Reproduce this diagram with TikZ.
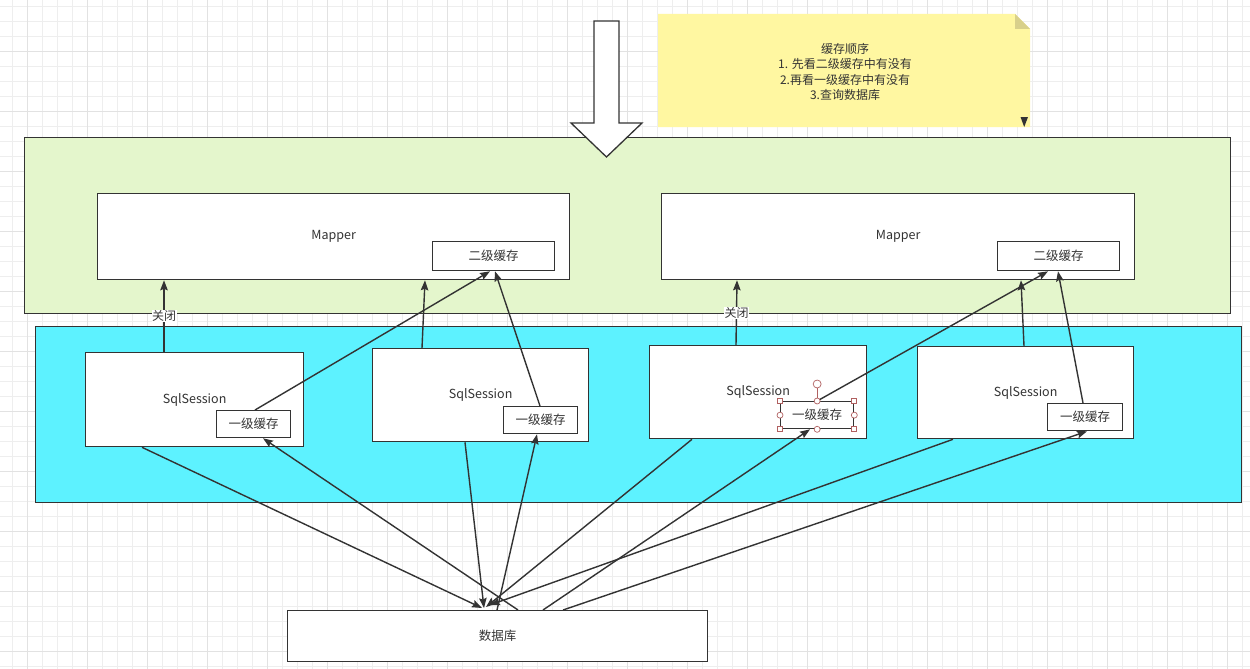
\documentclass[tikz,border=0pt]{standalone}
\usepackage{fontspec}
\setmainfont{Noto Sans CJK SC}
\usetikzlibrary{arrows.meta,calc}
\definecolor{gridmin}{HTML}{EEEEEE}
\definecolor{gridmaj}{HTML}{E2E2E2}
\definecolor{linec}{HTML}{333333}
\definecolor{textc}{HTML}{333333}
\definecolor{greenfill}{HTML}{E4F6CC}
\definecolor{cyanfill}{HTML}{5DF2FF}
\definecolor{notefill}{HTML}{FFF7A1}
\definecolor{foldfill}{HTML}{D8D08B}
\definecolor{handlec}{HTML}{B06060}
\begin{document}
\begin{tikzpicture}[x=1pt,y=-1pt,
  box/.style={draw=linec, line width=1.3pt, fill=white, inner sep=0pt, anchor=north west,
    text=textc, font=\fontsize{12.5}{15}\selectfont},
  layer/.style={draw=linec, line width=1.4pt, inner sep=0pt, anchor=north west},
  conn/.style={draw=linec, line width=1.4pt, -{Stealth[length=10pt,width=7.5pt,inset=1.5pt]}},
  lbl/.style={fill=white, inner sep=0.5pt, text=textc, font=\fontsize{12}{14}\selectfont},
  hsq/.style={draw=handlec, fill=white, line width=0.7pt, minimum size=5pt, inner sep=0pt},
  hci/.style={draw=handlec, fill=white, line width=0.7pt, circle, minimum size=6pt, inner sep=0pt}
]
\useasboundingbox (0,0) rectangle (1250,669);
\fill[white] (0,0) rectangle (1250,669);
% grid
\foreach \i in {0,...,83} {\draw[gridmin, line width=0.8pt] ({12.7+15*\i},0) -- ({12.7+15*\i},669);}
\foreach \i in {0,...,44} {\draw[gridmin, line width=0.8pt] (0,{6+15*\i}) -- (1250,{6+15*\i});}
\foreach \i in {0,...,20} {\draw[gridmaj, line width=0.9pt] ({27.7+60*\i},0) -- ({27.7+60*\i},669);}
\foreach \i in {0,...,11} {\draw[gridmaj, line width=0.9pt] (0,{51+60*\i}) -- (1250,{51+60*\i});}

% layers
\node[layer, fill=greenfill, minimum width=1206pt, minimum height=176pt] (l2layer) at (24,137) {};
\node[layer, fill=cyanfill, minimum width=1206pt, minimum height=176pt] (l1layer) at (35,326) {};

% note
\fill[notefill] (658,14) -- (1015,14) -- (1030,29) -- (1030,127) -- (658,127) -- cycle;
\fill[foldfill] (1015,14) -- (1015,29) -- (1030,29) -- cycle;
\node[text=textc, align=center, font=\fontsize{12}{15.5}\selectfont] (note) at (845,72)
  {缓存顺序\\1. 先看二级缓存中有没有\\2.再看一级缓存中有没有\\3.查询数据库};
\fill[linec] (1020.5,117) -- (1028,117) -- (1024.2,127) -- cycle;

% big arrow
\draw[fill=white, draw=linec, line width=1.3pt, line join=miter]
  (594,21) -- (619,21) -- (619,123) -- (642,123) -- (606.5,157) -- (571,123) -- (594,123) -- cycle;

% mappers
\node[box, minimum width=472pt, minimum height=86pt] (mapper1) at (97,193) {Mapper};
\node[box, minimum width=122pt, minimum height=29pt] (lvtwoa) at (432,241) {二级缓存};
\node[box, minimum width=473pt, minimum height=86pt] (mapper2) at (661,193) {Mapper};
\node[box, minimum width=122pt, minimum height=29pt] (lvtwob) at (997,241) {二级缓存};

% sessions
\node[box, minimum width=218pt, minimum height=94pt] (ss1) at (85,352) {SqlSession};
\node[box, minimum width=74pt, minimum height=27pt] (lvonea) at (216,410) {一级缓存};
\node[box, minimum width=216pt, minimum height=93pt] (ss2) at (372,348) {SqlSession};
\node[box, minimum width=74pt, minimum height=27pt] (lvoneb) at (503,406) {一级缓存};
\node[box, minimum width=217pt, minimum height=93pt] (ss3) at (649,345) {SqlSession};
\node[box, minimum width=73pt, minimum height=27pt] (lvonec) at (780,401) {一级缓存};
\node[box, minimum width=216pt, minimum height=92pt] (ss4) at (917,346) {SqlSession};
\node[box, minimum width=75pt, minimum height=27pt] (lvoned) at (1047,403) {一级缓存};

% database
\node[box, minimum width=420pt, minimum height=51pt] (db) at (287,610) {数据库};

% upper connectors
\draw[conn] ([xshift=79pt]ss1.north west) -- node[lbl]{关闭} ([xshift=67pt]mapper1.south west);
\draw[conn] ([xshift=39pt]lvonea.north west) -- ([xshift=58pt]lvtwoa.south west);
\draw[conn] ([xshift=50pt]ss2.north west) -- ([xshift=328pt]mapper1.south west);
\draw[conn] ([xshift=37pt]lvoneb.north west) -- ([xshift=63pt]lvtwoa.south west);
\draw[conn] ([xshift=87pt]ss3.north west) -- node[lbl]{关闭} ([xshift=76pt]mapper2.south west);
\draw[conn] (lvonec.north) -- ([xshift=51pt]lvtwob.south west);
\draw[conn] ([xshift=107pt]ss4.north west) -- ([xshift=360pt]mapper2.south west);
\draw[conn] ([xshift=36pt]lvoned.north west) -- ([xshift=61pt]lvtwob.south west);

% lower connectors
\draw[conn] ([xshift=57pt]ss1.south west) -- ([xshift=195pt,yshift=2pt]db.north west);
\draw[conn] ([xshift=231pt]db.north west) -- ([xshift=47pt]lvonea.south west);
\draw[conn] ([xshift=93pt]ss2.south west) -- ([xshift=197pt,yshift=2pt]db.north west);
\draw[conn] ([xshift=210pt]db.north west) -- ([xshift=34pt]lvoneb.south west);
\draw[conn] ([xshift=43pt]ss3.south west) -- ([xshift=199pt,yshift=3pt]db.north west);
\draw[conn] ([xshift=256pt]db.north west) -- ([xshift=30pt]lvonec.south west);
\draw[conn] ([xshift=36pt]ss4.south west) -- ([xshift=203pt,yshift=5pt]db.north west);
\draw[conn] ([xshift=276pt]db.north west) -- ([xshift=40pt]lvoned.south west);

% selection handles on the third 一级缓存
\draw[handlec, line width=0.7pt] (lvonec.north) -- ([yshift=14pt]lvonec.north);
\node[hci, minimum size=8pt] (rot) at ([yshift=17pt]lvonec.north) {};
\node[hsq] (hnw) at (lvonec.north west) {};
\node[hsq] (hne) at (lvonec.north east) {};
\node[hsq] (hsw) at (lvonec.south west) {};
\node[hsq] (hse) at (lvonec.south east) {};
\node[hci] (hn) at (lvonec.north) {};
\node[hci] (hs) at (lvonec.south) {};
\node[hci] (hw) at (lvonec.west) {};
\node[hci] (he) at (lvonec.east) {};
\end{tikzpicture}
\end{document}
